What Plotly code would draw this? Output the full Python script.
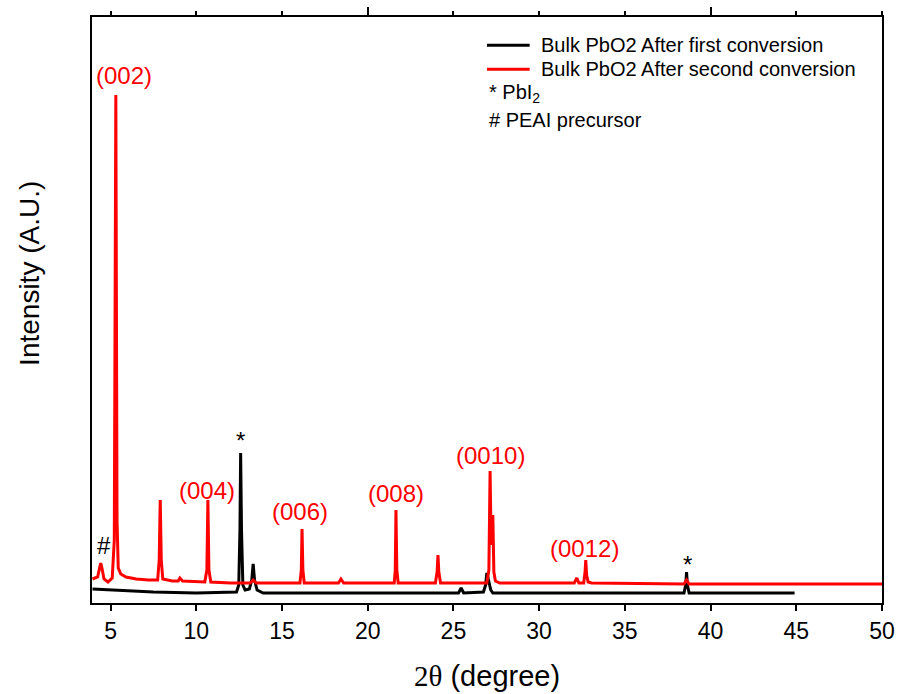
import plotly.graph_objects as go

# XRD patterns, 2-theta (degree) vs intensity (arbitrary units, offset stacked)
black_x = [3.95, 5.0, 6.0, 7.5, 10.0, 12.35, 12.48, 12.55, 12.59, 12.64, 12.72,
           12.85, 13.1, 13.24, 13.32, 13.4, 13.55, 13.9, 25.3, 25.45, 25.6,
           26.75, 26.88, 26.95, 27.02, 27.1, 27.18, 27.3, 38.45, 38.55, 38.6,
           38.65, 38.75, 44.9]
black_y = [40, 30, 20, 10, 0, 10, 80, 630, 1400, 630, 80,
           30, 40, 130, 290, 130, 30, 0, 0, 50, 0,
           10, 80, 200, 150, 70, 30, 0, 0, 80, 210,
           80, 0, 0]

red_x = [3.95, 4.25, 4.36, 4.43, 4.5, 4.62, 4.85, 5.1, 5.22, 5.31, 5.38, 5.45,
         5.6, 5.9, 6.5, 7.2, 7.75, 7.84, 7.9, 7.96, 8.05, 8.6, 8.95, 9.05,
         9.2, 10.5, 10.62, 10.68, 10.74, 10.85, 12.0, 13.15, 13.32, 13.5,
         16.05, 16.13, 16.17, 16.22, 16.3, 18.3, 18.44, 18.6, 21.55, 21.61,
         21.65, 21.7, 21.78, 23.95, 24.05, 24.1, 24.15, 24.25, 26.95, 27.07,
         27.14, 27.2, 27.3, 27.36, 27.45, 27.7, 32.05, 32.2, 32.32, 32.6,
         32.68, 32.72, 32.77, 32.86, 33.05, 38.45, 38.6, 38.75, 50.0]
red_y = [140, 160, 250, 300, 250, 140, 110, 150, 530, 4980, 730, 250,
         190, 160, 140, 130, 130, 330, 930, 330, 140, 120, 120, 150,
         120, 110, 230, 930, 230, 110, 100, 100, 130, 100,
         100, 230, 640, 230, 100, 100, 140, 100, 100, 230,
         830, 230, 100, 100, 210, 380, 210, 100, 100, 230,
         1220, 480, 780, 210, 120, 100, 100, 150, 100, 100,
         210, 330, 180, 110, 100, 90, 130, 90, 90]

# Miller-index labels for the layered perovskite reflections
hkl_labels = ["(002)", "(004)", "(006)", "(008)", "(0010)", "(0012)"]
hkl_x = [5.78, 10.62, 16.05, 21.65, 27.14, 32.62]
hkl_y = [5180, 1030, 820, 1000, 1380, 450]

# phase markers: * PbI2, # PEAI precursor
mark_text = ["#", "*", "*"]
mark_x = [4.6, 12.59, 38.64]
mark_y = [480, 1530, 290]

legend_names = ["Bulk PbO2 After first conversion",
                "Bulk PbO2 After second conversion"]
legend_notes = ["* PbI<sub>2</sub>", "# PEAI precursor"]

x_ticks = [5, 10, 15, 20, 25, 30, 35, 40, 45, 50]

FONT = "Arial, 'Liberation Sans', sans-serif"
SERIF = "'Times New Roman', 'Liberation Serif', serif"
RED = "#ff0000"
BLACK = "#000000"
LW = 3

fig = go.Figure()
fig.add_trace(go.Scatter(x=black_x, y=black_y, mode="lines", name=legend_names[0],
                         line=dict(color=BLACK, width=LW), showlegend=False))
fig.add_trace(go.Scatter(x=red_x, y=red_y, mode="lines", name=legend_names[1],
                         line=dict(color=RED, width=LW), showlegend=False))
# empty trace so the top tick axis is laid out
fig.add_trace(go.Scatter(x=[], y=[], xaxis="x2", showlegend=False, hoverinfo="skip"))

annotations = []
for t, x, y in zip(hkl_labels, hkl_x, hkl_y):
    annotations.append(dict(x=x, y=y, xref="x", yref="y", text=t, showarrow=False,
                            font=dict(family=FONT, size=24, color=RED)))
for t, x, y in zip(mark_text, mark_x, mark_y):
    annotations.append(dict(x=x, y=y, xref="x", yref="y", text=t, showarrow=False,
                            font=dict(family=FONT, size=24, color=BLACK)))

# legend block drawn in paper coordinates
leg_x0, leg_x1, leg_tx = 0.5, 0.554, 0.566
leg_rows = [0.952, 0.911]
shapes = []
for color, name, yy in zip([BLACK, RED], legend_names, leg_rows):
    shapes.append(dict(type="line", xref="paper", yref="paper", x0=leg_x0, x1=leg_x1,
                       y0=yy, y1=yy, line=dict(color=color, width=LW)))
    annotations.append(dict(x=leg_tx, y=yy, xref="paper", yref="paper", text=name,
                            showarrow=False, xanchor="left", yanchor="middle",
                            font=dict(family=FONT, size=20, color=BLACK)))
for note, yy in zip(legend_notes, [0.870, 0.824]):
    annotations.append(dict(x=leg_x0, y=yy, xref="paper", yref="paper", text=note,
                            showarrow=False, xanchor="left", yanchor="middle",
                            font=dict(family=FONT, size=20, color=BLACK)))

# axis titles
annotations.append(dict(x=0.5, y=-0.124, xref="paper", yref="paper",
                        text=f'<span style="font-family:{SERIF}">2θ</span> (degree)',
                        showarrow=False, xanchor="center", yanchor="middle",
                        font=dict(family=FONT, size=29, color=BLACK)))
annotations.append(dict(x=-0.08, y=0.563, xref="paper", yref="paper",
                        text="Intensity (A.U.)", textangle=-90,
                        showarrow=False, xanchor="center", yanchor="middle",
                        font=dict(family=FONT, size=28, color=BLACK)))

fig.update_layout(
    width=898, height=694,
    margin=dict(l=92, r=16, t=17, b=91),
    paper_bgcolor="white", plot_bgcolor="white",
    font=dict(family=FONT, color=BLACK),
    annotations=annotations, shapes=shapes,
    xaxis=dict(range=[3.92, 50], showgrid=False, zeroline=False, automargin=False,
               showline=True, linecolor=BLACK, linewidth=2, mirror=True,
               ticks="outside", ticklen=6, tickwidth=2, tickcolor=BLACK,
               tickvals=x_ticks,
               tickfont=dict(family=FONT, size=23, color=BLACK)),
    xaxis2=dict(range=[3.92, 50], overlaying="x", side="top", showgrid=False,
                zeroline=False, showline=False, showticklabels=False, automargin=False,
                ticks="outside", ticklen=9, tickwidth=2, tickcolor=BLACK,
                tickvals=[20, 40],
                minor=dict(ticks="outside", ticklen=5, tickwidth=2, tickcolor=BLACK,
                           tickvals=[t for t in x_ticks if t not in (20, 40)])),
    yaxis=dict(range=[-100, 5760], showgrid=False, zeroline=False, automargin=False,
               showline=True, linecolor=BLACK, linewidth=2, mirror=True,
               ticks="", showticklabels=False),
)

fig.write_html("out.html")
